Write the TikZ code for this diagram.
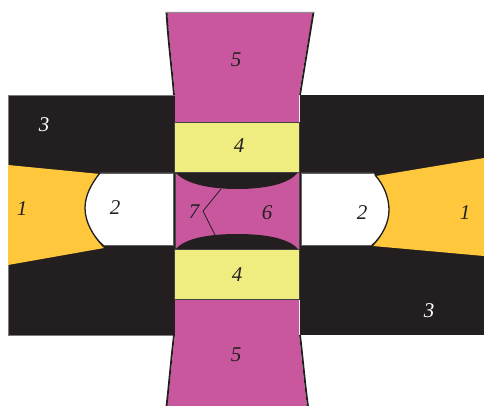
\documentclass[tikz,border=0pt]{standalone}
\usepackage{fontspec}
\setmainfont{Liberation Serif}
\definecolor{blk}{HTML}{231F20}
\definecolor{pnk}{HTML}{C9579E}
\definecolor{ylw}{HTML}{EFEC80}
\definecolor{org}{HTML}{FFC83C}
\tikzset{
  lab/.style={font=\fontsize{21}{21}\selectfont\itshape,text=blk,inner sep=0pt},
  wlab/.style={lab,text=white},
  edge/.style={draw=blk,line width=1.8pt},
  pad/.style={fill=ylw,draw=blk!85,line width=0.8pt},
  thinline/.style={draw=blk,line width=0.8pt}
}
\begin{document}
\begin{tikzpicture}[x=1pt,y=-1pt]
\useasboundingbox (0,0) rectangle (484,406);
% black blocks
\filldraw[fill=blk,draw=blk!60,line width=0.4pt] (8,95) rectangle (175,335);
\fill[blk] (300,95) rectangle (484,335);
% orange wedges
\fill[org] (8,165) -- (100,174) .. controls (91,184) and (85,196) .. (85,208) .. controls (85,222) and (93,237) .. (104,248) -- (8,265) -- cycle;
\fill[org] (484,158) -- (376,176) .. controls (385,186) and (389,198) .. (389,210) .. controls (389,222) and (383,235) .. (373,246) -- (484,256) -- cycle;
% white gaps
\path[fill=white] (100,173) -- (173,173) -- (173,245) -- (104,245) .. controls (93,236) and (85,222) .. (85,208) .. controls (85,196) and (91,184) .. (100,173) -- cycle;
\path[fill=white] (373,173) -- (301,173) -- (301,245) -- (371,245) .. controls (383,235) and (389,222) .. (389,210) .. controls (389,198) and (384,184) .. (373,173) -- cycle;
\draw[blk!70,line width=0.5pt] (100,173) -- (173,173) -- (173,245) -- (104,245);
\draw[blk!70,line width=0.5pt] (373,173) -- (301,173) -- (301,245) -- (371,245);
\draw[edge,line width=1.3pt] (100,173) .. controls (91,184) and (85,196) .. (85,208) .. controls (85,222) and (93,236) .. (104,247);
\draw[edge,line width=1.3pt] (375,175) .. controls (384,185) and (389,198) .. (389,210) .. controls (389,222) and (383,235) .. (372,246);
% pink column
\fill[pnk] (167,12) .. controls (169,40) and (173,70) .. (175,95) -- (175,122) -- (299,122) -- (299,95) .. controls (303,70) and (308,40) .. (313,12) -- cycle;
\fill[pnk] (175,299) -- (175,335) .. controls (172,360) and (170,385) .. (167,406) -- (307,406) .. controls (304,385) and (302,360) .. (299,335) -- (299,299) -- cycle;
\draw[edge] (166.5,12) .. controls (168,40) and (172,70) .. (174,95);
\draw[edge] (313.5,12) .. controls (309,40) and (304,70) .. (300,95);
\draw[edge] (174,335) .. controls (171,360) and (169,385) .. (166.5,406);
\draw[edge] (300,335) .. controls (303,360) and (305,385) .. (308,406);
\draw[blk!50,line width=0.6pt] (166,12) -- (314,12);
\filldraw[fill=pnk,draw=blk!85,line width=0.8pt] (175,172) rectangle (299,249);
% lenses
\fill[blk] (175,172) .. controls (185,184) and (210,189) .. (237,189) .. controls (265,189) and (290,184) .. (298,172) -- cycle;
\fill[blk] (176,249) .. controls (185,238) and (210,234) .. (237,234) .. controls (265,234) and (288,238) .. (298,249) -- cycle;
% yellow pads
\filldraw[pad] (174,122) rectangle (299,172);
\filldraw[pad] (174,249) rectangle (299,299);
% labels
\node[lab] (n5a) at (236,60) {5};
\node[lab] (n5b) at (236,355) {5};
\node[lab] (n4a) at (239,146) {4};
\node[lab] (n4b) at (237,275) {4};
\node[wlab] (n3a) at (44,125) {3};
\node[wlab] (n3b) at (429,311) {3};
\node[lab] (n1a) at (22,209) {1};
\node[lab] (n1b) at (465,213) {1};
\node[lab] (n2a) at (115,208) {2};
\node[lab] (n2b) at (362,213) {2};
\node[lab] (n7) at (194,212) {7};
\node[lab] (n6) at (267,213) {6};
\coordinate (z1) at (221,189);
\coordinate (z2) at (203,211);
\coordinate (z3) at (215,235);
\draw[thinline] (z1) -- (z2) -- (z3);
\end{tikzpicture}
\end{document}
